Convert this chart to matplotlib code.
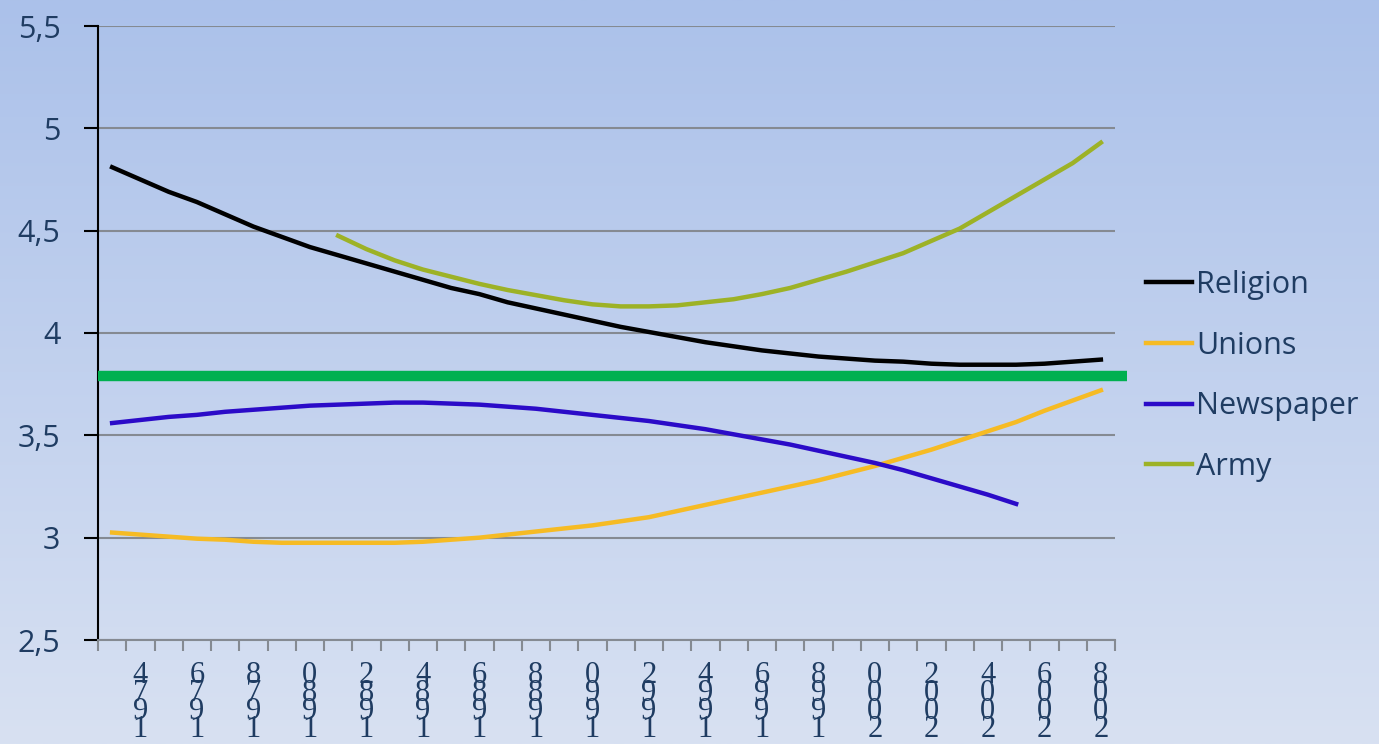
import matplotlib
matplotlib.use("Agg")
import matplotlib.pyplot as plt
import numpy as np
from matplotlib.colors import LinearSegmentedColormap

# data (yearly trend values)
years = list(range(1973, 2009))
religion = [4.81, 4.75, 4.69, 4.64, 4.58, 4.52, 4.47, 4.42, 4.38, 4.34,
            4.30, 4.26, 4.22, 4.19, 4.15, 4.12, 4.09, 4.06, 4.03, 4.005,
            3.98, 3.955, 3.935, 3.915, 3.90, 3.885, 3.875, 3.865, 3.86, 3.85,
            3.845, 3.845, 3.845, 3.85, 3.86, 3.87]
unions = [3.025, 3.015, 3.005, 2.995, 2.99, 2.98, 2.975, 2.975, 2.975, 2.975,
          2.975, 2.98, 2.99, 3.00, 3.015, 3.03, 3.045, 3.06, 3.08, 3.10,
          3.13, 3.16, 3.19, 3.22, 3.25, 3.28, 3.315, 3.35, 3.39, 3.43,
          3.475, 3.52, 3.565, 3.62, 3.67, 3.72]
news_years = list(range(1973, 2006))
newspaper = [3.56, 3.575, 3.59, 3.60, 3.615, 3.625, 3.635, 3.645, 3.65, 3.655,
             3.66, 3.66, 3.655, 3.65, 3.64, 3.63, 3.615, 3.60, 3.585, 3.57,
             3.55, 3.53, 3.505, 3.48, 3.455, 3.425, 3.395, 3.365, 3.33, 3.29,
             3.25, 3.21, 3.165]
army_years = list(range(1981, 2009))
army = [4.475, 4.41, 4.355, 4.31, 4.275, 4.24, 4.21, 4.185, 4.16, 4.14,
        4.13, 4.13, 4.135, 4.15, 4.165, 4.19, 4.22, 4.26, 4.30, 4.345,
        4.39, 4.45, 4.51, 4.59, 4.67, 4.75, 4.83, 4.93]
reference_level = 3.79

y_ticks = [2.5, 3, 3.5, 4, 4.5, 5, 5.5]
y_labels = ["2,5", "3", "3,5", "4", "4,5", "5", "5,5"]
label_years = list(range(1974, 2009, 2))

text_col = "#1f3c62"
font = "Open Sans"

fig = plt.figure(figsize=(13.79, 7.44), dpi=100)

# gradient background
bg = fig.add_axes([0, 0, 1, 1], zorder=-10)
cmap = LinearSegmentedColormap.from_list("bg", ["#abc1ea", "#d8e1f2"])
bg.imshow(np.linspace(0, 1, 256).reshape(-1, 1), aspect="auto", cmap=cmap,
          extent=[0, 1, 0, 1])
bg.axis("off")

ax = fig.add_axes([98 / 1379, 1 - 640 / 744, (1115 - 98) / 1379, (640 - 26) / 744])
ax.set_facecolor("none")

ax.plot(years, religion, color="black", lw=3.2, label="Religion", zorder=3)
ax.plot(years, unions, color="#f6bb24", lw=3.2, label="Unions", zorder=3)
ax.plot(news_years, newspaper, color="#2b0bc8", lw=3.2, label="Newspaper", zorder=3)
ax.plot(army_years, army, color="#9db226", lw=3.2, label="Army", zorder=3)

# thick green reference line, runs a bit past the plot area
ax.plot([0, 1.012], [reference_level] * 2, color="#00b050", lw=7.5,
        transform=ax.get_yaxis_transform(), clip_on=False, zorder=4,
        solid_capstyle="butt")

ax.set_ylim(2.5, 5.5)
ax.set_xlim(1972.5, 2008.5)
ax.set_yticks(y_ticks)
ax.set_yticklabels(y_labels, fontsize=22, color=text_col, family=font)
ax.yaxis.grid(True, color="#858a92", lw=1.5)
ax.set_axisbelow(True)

ax.set_xticks(np.arange(1972.5, 2009, 1))
ax.set_xticklabels([])
ax.set_xticks(label_years, minor=True)
ax.set_xticklabels(["\n".join(reversed(str(y))) for y in label_years], minor=True,
                   fontsize=22, color=text_col, family="Liberation Serif",
                   linespacing=0.5)

ax.tick_params(axis="y", length=10, width=1.5, color="black", pad=17)
ax.tick_params(axis="x", which="major", length=8, width=1.5, color="#858a92")
ax.tick_params(axis="x", which="minor", length=0, pad=15)

for s in ["top", "right"]:
    ax.spines[s].set_visible(False)
ax.spines["left"].set_color("black")
ax.spines["left"].set_linewidth(1.5)
ax.spines["bottom"].set_color("#858a92")
ax.spines["bottom"].set_linewidth(1.5)

leg = fig.legend(loc="center left", bbox_to_anchor=(1146 / 1379, 1 - 376 / 744),
                 frameon=False, borderpad=0, borderaxespad=0, handlelength=1.5,
                 handletextpad=0.15, labelspacing=1.0,
                 prop={"family": font, "size": 22})
for t in leg.get_texts():
    t.set_color(text_col)

fig.savefig("out.png", dpi=100)
